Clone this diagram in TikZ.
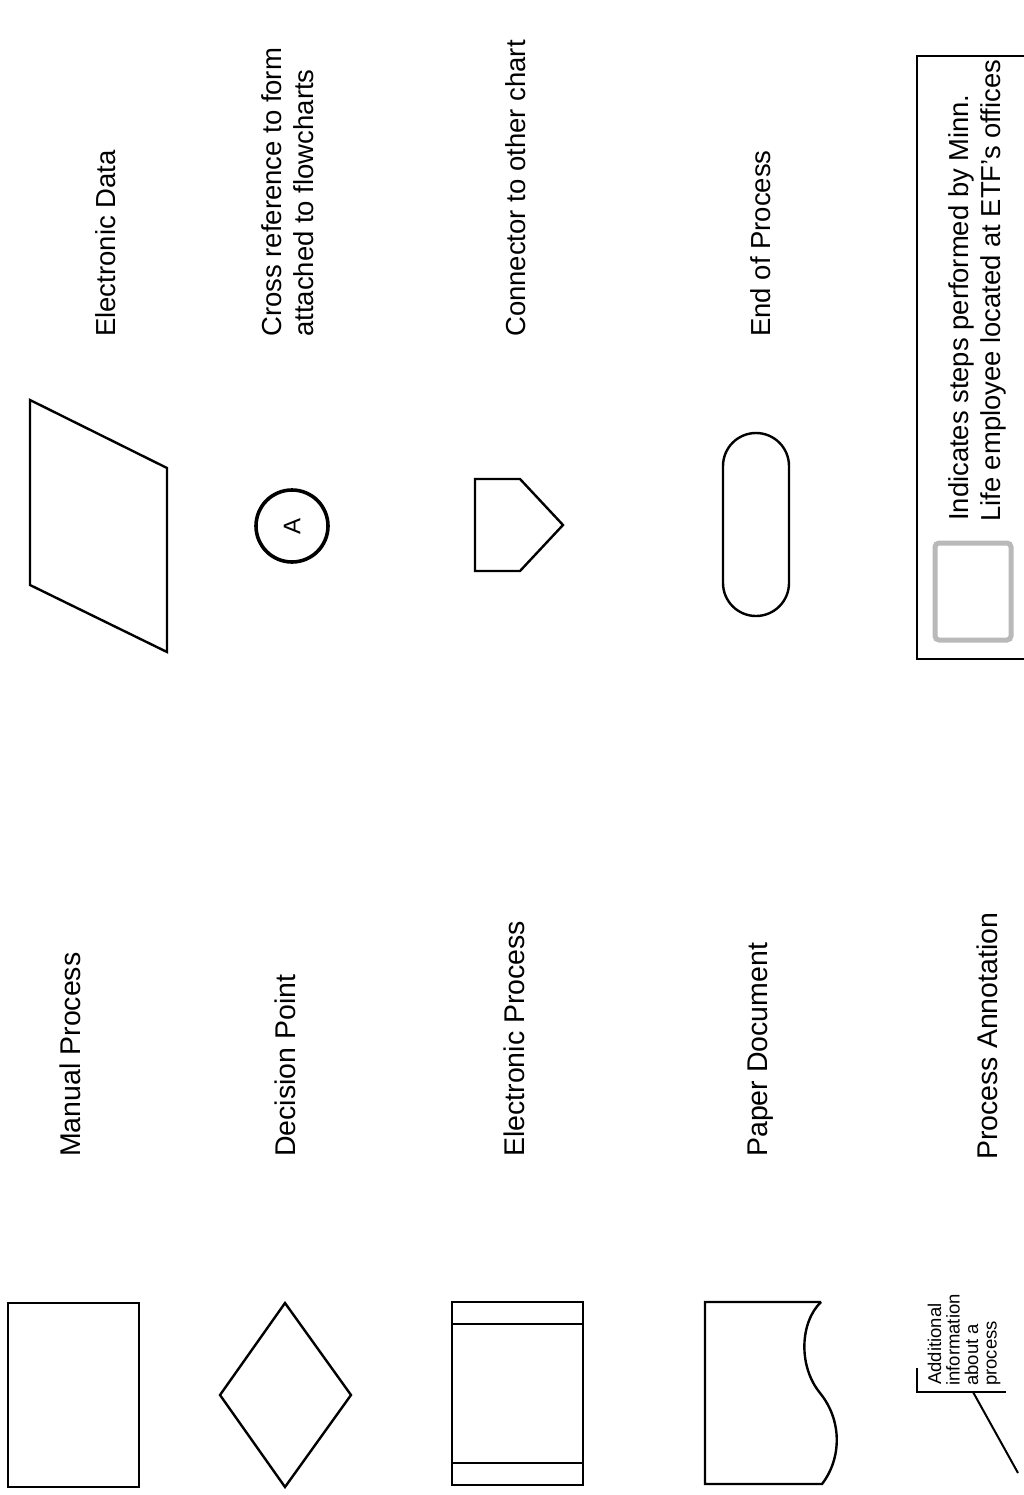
\documentclass[tikz,border=0pt]{standalone}
\usepackage{fontspec}
\setmainfont{Liberation Sans}
\begin{document}
\begin{tikzpicture}[x=1pt,y=-1pt,
  shp/.style={line width=2.4pt, line join=miter},
  lbl/.style={rotate=90, anchor=base west, inner sep=0pt, font=\fontsize{28.5}{33}\selectfont},
  rlbl/.style={rotate=90, anchor=base west, inner sep=0pt, font=\fontsize{27.5}{33}\selectfont},
  leglbl/.style={rotate=90, anchor=base west, inner sep=0pt, font=\fontsize{27.4}{33}\selectfont},
  smalltxt/.style={rotate=90, anchor=base west, inner sep=0pt, font=\fontsize{18.5}{18.5}\selectfont},
]
\useasboundingbox (0,0) rectangle (1024,1495);
\clip (0,0) rectangle (1024,1495);

% ---- left column of symbols ----
% Manual process
\draw[shp] (8,1303) rectangle (139,1487);
% Decision point
\draw[shp] (285,1303) -- (351,1395) -- (285,1487) -- (220,1395) -- cycle;
% Electronic process
\draw[shp] (452,1302) rectangle (583,1485);
\draw[shp] (452,1324) -- (583,1324);
\draw[shp] (452,1463) -- (583,1463);
% Paper document
\draw[shp] (821,1302) -- (705,1302) -- (705,1484) -- (822,1484)
  .. controls (842,1458) and (842,1420) .. (820,1393)
  .. controls (798,1366) and (800,1322) .. (821,1302);
% Process annotation
\coordinate (brTop) at (917,1368);
\coordinate (brCorner) at (917,1392);
\coordinate (brEnd) at (1006,1392);
\coordinate (legStart) at (973,1392);
\coordinate (legEnd) at (1018,1473);
\draw[line width=2pt] (brTop) -- (brCorner) -- (brEnd);
\draw[line width=2pt] (legStart) -- (legEnd);
\node[smalltxt] (annot1) at (941,1385) {Additional};
\node[smalltxt] (annot2) at (959.5,1386) {information};
\node[smalltxt] (annot3) at (978,1386) {about a};
\node[smalltxt] (annot4) at (996.5,1386) {process};

% ---- left column labels ----
\node[lbl] (manual) at (80,1157) {Manual Process};
\node[lbl] (decision) at (295,1157) {Decision Point};
\node[lbl] (eproc) at (524,1157) {Electronic Process};
\node[lbl] (paper) at (767,1157) {Paper Document};
\node[lbl] (annot) at (997,1160) {Process Annotation};

% ---- right column of symbols ----
% Electronic data
\draw[shp] (30,400) -- (167,468) -- (167,652) -- (30,585) -- cycle;
% Cross reference circle
\node[circle, draw, line width=3.6pt, minimum size=72pt, inner sep=0pt,
      font=\fontsize{24}{24}\selectfont, rotate=90] (xrefA) at (292,526) {A};
% Connector to other chart
\draw[shp] (520,479) -- (475,479) -- (475,571) -- (520,571) -- (563,525) -- cycle;
% End of process (terminator)
\draw[shp, rounded corners=33pt] (723,433) rectangle (789,616);
% Legend box
\draw[line width=2.6pt] (1040,56) -- (917,56) -- (917,659) -- (1040,659);
\draw[line width=5pt, draw=gray!55, rounded corners=4pt] (935,543) rectangle (1011,640);

% ---- right column labels ----
\node[rlbl] (edata) at (115,337) {Electronic Data};
\node[rlbl] (xref1) at (281,337) {Cross reference to form};
\node[rlbl] (xref2) at (313,337) {attached to flowcharts};
\node[rlbl] (conn) at (525,337) {Connector to other chart};
\node[rlbl] (endp) at (770,337) {End of Process};
\node[leglbl] (leg1) at (968,521) {Indicates steps performed by Minn.};
\node[leglbl] (leg2) at (1000,522) {Life employee located at ETF’s offices};
\end{tikzpicture}
\end{document}
